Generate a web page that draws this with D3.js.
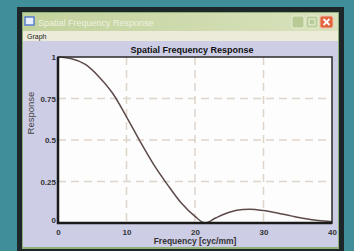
<!DOCTYPE html>
<html>
<head>
<meta charset="utf-8">
<script src="https://cdn.jsdelivr.net/npm/d3@7"></script>
<style>
  html, body { margin: 0; padding: 0; background: #3f8e9a; }
  svg { display: block; }
  text { font-family: "Liberation Sans", Arial, sans-serif; }
</style>
</head>
<body>
<div id="chart"></div>
<script>
// donnees
const frequencies = [0, 2, 4, 6, 8, 10, 12, 14, 16, 18, 20, 21.5, 23, 25, 27, 28, 30, 32, 34, 36, 38, 40];
const responses = [1, 0.99, 0.955, 0.88, 0.78, 0.64, 0.49, 0.35, 0.23, 0.12, 0.04, 0, 0.03, 0.065, 0.082, 0.083, 0.075, 0.06, 0.043, 0.027, 0.015, 0.008];
const xTicks = [0, 10, 20, 30, 40];
const yTicks = [0, 0.25, 0.5, 0.75, 1];
const yTickLabels = ["0", "0.25", "0.5", "0.75", "1"];

const W = 354, H = 251;
const svg = d3.select("#chart").append("svg")
    .attr("width", W)
    .attr("height", H);

// fond bleu-vert
svg.append("rect").attr("width", W).attr("height", H).attr("fill", "#3f8e9a");

// cadre sombre de la fenetre
svg.append("rect")
    .attr("x", 17).attr("y", 7).attr("width", 327).attr("height", 250)
    .attr("fill", "#1d2729");
svg.append("rect")
    .attr("x", 22).attr("y", 12).attr("width", 317).attr("height", 237)
    .attr("fill", "#8fb07a");

// barre de titre
const grad = svg.append("defs").append("linearGradient")
    .attr("id", "titlebar").attr("x1", 0).attr("x2", 1).attr("y1", 0).attr("y2", 0);
grad.append("stop").attr("offset", "0").attr("stop-color", "#c2d29c");
grad.append("stop").attr("offset", "1").attr("stop-color", "#d9e2bd");
svg.append("rect")
    .attr("x", 23).attr("y", 13).attr("width", 315).attr("height", 18)
    .attr("fill", "url(#titlebar)");
svg.append("rect")
    .attr("x", 25).attr("y", 17).attr("width", 9).attr("height", 8)
    .attr("fill", "#e8f0ff").attr("stroke", "#5a7ed0").attr("stroke-width", 1.5);
svg.append("text")
    .attr("x", 38).attr("y", 26)
    .attr("font-size", 9).attr("fill", "#eef2e0")
    .text("Spatial Frequency Response");

// boutons
svg.append("rect").attr("x", 292).attr("y", 16).attr("width", 12).attr("height", 12)
    .attr("rx", 2).attr("fill", "#b9cb95").attr("stroke", "#e6edd2");
svg.append("rect").attr("x", 306).attr("y", 16).attr("width", 12).attr("height", 12)
    .attr("rx", 2).attr("fill", "#b9cb95").attr("stroke", "#e6edd2");
svg.append("rect").attr("x", 309).attr("y", 19).attr("width", 6).attr("height", 6)
    .attr("fill", "none").attr("stroke", "#eef2e0");
svg.append("rect").attr("x", 320).attr("y", 16).attr("width", 13).attr("height", 12)
    .attr("rx", 2).attr("fill", "#e2643c").attr("stroke", "#f4c0a8");
svg.append("path").attr("d", "M323.5,19 L329.5,25 M329.5,19 L323.5,25")
    .attr("stroke", "#fff").attr("stroke-width", 1.8);

// menu
svg.append("rect")
    .attr("x", 23).attr("y", 31).attr("width", 315).attr("height", 10)
    .attr("fill", "#ecebd9");
svg.append("text")
    .attr("x", 27).attr("y", 39)
    .attr("font-size", 7).attr("fill", "#222")
    .text("Graph");

// zone cliente lavande
svg.append("rect")
    .attr("x", 23).attr("y", 41).attr("width", 315).attr("height", 206)
    .attr("fill", "#cdcde6");

// echelles
const margin = { left: 58, right: 332, top: 57, bottom: 223 };
const x = d3.scaleLinear().domain([0, 40]).range([margin.left, margin.right]);
const y = d3.scaleLinear().domain([0, 1]).range([margin.bottom, margin.top]);

// zone du graphe
svg.append("rect")
    .attr("x", x(0)).attr("y", y(1))
    .attr("width", x(40) - x(0)).attr("height", y(0) - y(1))
    .attr("fill", "#fdfdfd");

// grille pointillee
svg.selectAll(".vgrid")
    .data(xTicks.filter(d => d > 0 && d < 40))
    .enter().append("line")
    .attr("x1", d => x(d)).attr("x2", d => x(d))
    .attr("y1", y(1)).attr("y2", y(0))
    .attr("stroke", "#e0d5ca").attr("stroke-width", 1.5)
    .attr("stroke-dasharray", "8,5");
svg.selectAll(".hgrid")
    .data(yTicks.filter(d => d > 0 && d < 1))
    .enter().append("line")
    .attr("x1", x(0)).attr("x2", x(40))
    .attr("y1", d => y(d)).attr("y2", d => y(d))
    .attr("stroke", "#e0d5ca").attr("stroke-width", 1.5)
    .attr("stroke-dasharray", "8,5");

// courbe
const points = frequencies.map((f, i) => [f, responses[i]]);
const line = d3.line()
    .x(d => x(d[0]))
    .y(d => y(d[1]))
    .curve(d3.curveMonotoneX);
svg.append("path")
    .datum(points)
    .attr("d", line)
    .attr("fill", "none")
    .attr("stroke", "#5b4a48")
    .attr("stroke-width", 1.5);

// cadre du graphe
svg.append("rect")
    .attr("x", x(0)).attr("y", y(1))
    .attr("width", x(40) - x(0)).attr("height", y(0) - y(1))
    .attr("fill", "none").attr("stroke", "#2a2a2a").attr("stroke-width", 1.5);
svg.append("path")
    .attr("d", `M${x(0)},${y(1)} V${y(0)} H${x(40)}`)
    .attr("fill", "none").attr("stroke", "#1a1a1a").attr("stroke-width", 2.5);

// axes
const xAxis = d3.axisBottom(x).tickValues(xTicks).tickSize(0).tickPadding(6);
const yAxis = d3.axisLeft(y).tickValues(yTicks).tickSize(0).tickPadding(2)
    .tickFormat((d, i) => yTickLabels[i]);

const gx = svg.append("g").attr("transform", `translate(0,${y(0)})`).call(xAxis);
const gy = svg.append("g").attr("transform", `translate(${x(0)},0)`).call(yAxis);
[gx, gy].forEach(g => {
    g.select(".domain").remove();
    g.selectAll("text")
        .attr("font-family", "'Liberation Sans', Arial, sans-serif")
        .attr("font-size", 8).attr("font-weight", "bold").attr("fill", "#333");
});
gy.selectAll("text").filter(d => d === 0).attr("dy", "-0.1em");

// titres
svg.append("text")
    .attr("x", 192).attr("y", 53)
    .attr("text-anchor", "middle")
    .attr("font-size", 9).attr("font-weight", "bold").attr("fill", "#111")
    .text("Spatial Frequency Response");
svg.append("text")
    .attr("x", 195).attr("y", 244)
    .attr("text-anchor", "middle")
    .attr("font-size", 8.5).attr("font-weight", "bold").attr("fill", "#333")
    .text("Frequency [cyc/mm]");
svg.append("text")
    .attr("transform", "translate(34,113) rotate(-90)")
    .attr("text-anchor", "middle")
    .attr("font-size", 9.5).attr("fill", "#444")
    .text("Response");
</script>
</body>
</html>
